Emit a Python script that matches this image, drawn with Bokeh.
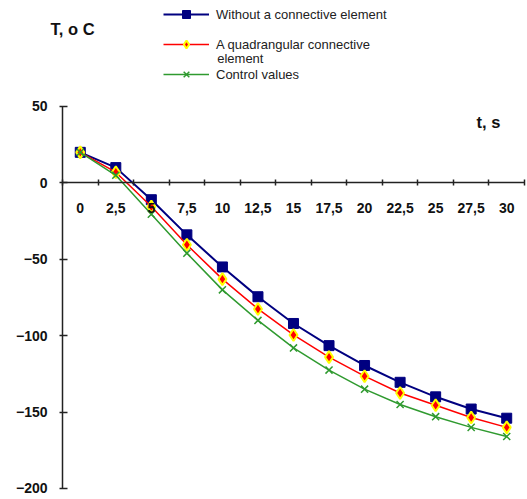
from bokeh.plotting import figure
from bokeh.models import (Range1d, FixedTicker, CustomJSTickFormatter, Label,
                          Legend, LegendItem)
from bokeh.embed import file_html
from bokeh.resources import INLINE

t = [0, 2.5, 5, 7.5, 10, 12.5, 15, 17.5, 20, 22.5, 25, 27.5, 30]
without_elem = [20, 10, -11, -34, -55, -74.5, -92, -106.5, -119.5, -130.5, -140, -148, -154]
quadrangular = [20, 7, -15.5, -40.5, -63, -82.5, -99.5, -114, -126.5, -137.5, -145.5, -153.5, -160]
control = [20, 5, -20.5, -46, -70, -90, -108, -122.5, -135, -145, -153, -160, -166]
y_ticks = [50, 0, -50, -100, -150, -200]
x_bounds = [v - 1.25 for v in t] + [t[-1] + 1.25]
series_names = ["Without a connective element", "A quadrangular connective", "element",
                "Control values"]

FONT = "Liberation Sans"
W, H = 527, 499

p = figure(width=W, height=H, output_backend="svg", toolbar_location=None,
           x_range=Range1d(-5.6115, 31.462), y_range=Range1d(-207.2, 119.37),
           min_border=0)
p.outline_line_color = None
p.grid.visible = False
p.background_fill_color = "white"

# x axis crossing at y = 0, Excel-like boundary ticks
xa = p.xaxis[0]
xa.fixed_location = 0
xa.bounds = (x_bounds[0], x_bounds[-1])
xa.ticker = FixedTicker(ticks=t, minor_ticks=x_bounds)
xa.formatter = CustomJSTickFormatter(code="return tick.toString().replace('.', ',')")
xa.major_tick_in = 0
xa.major_tick_out = 0
xa.minor_tick_in = 3
xa.minor_tick_out = 3
xa.minor_tick_line_color = "#222222"
xa.minor_tick_line_width = 1.5
xa.axis_line_color = "#222222"
xa.axis_line_width = 1.5
xa.major_label_standoff = 17
xa.major_label_text_font = FONT
xa.major_label_text_font_style = "bold"
xa.major_label_text_font_size = "14px"
xa.major_label_text_color = "#111111"

ya = p.yaxis[0]
ya.fixed_location = x_bounds[0]
ya.bounds = (-200, 50)
ya.ticker = FixedTicker(ticks=y_ticks)
ya.major_tick_in = 5
ya.major_tick_out = 3
ya.minor_tick_in = 0
ya.minor_tick_out = 0
ya.major_tick_line_color = "#222222"
ya.major_tick_line_width = 1.5
ya.axis_line_color = "#222222"
ya.axis_line_width = 1.5
ya.major_label_standoff = 12
ya.major_label_text_font = FONT
ya.major_label_text_font_style = "bold"
ya.major_label_text_font_size = "14px"
ya.major_label_text_color = "#111111"

BLUE = "#000080"
RED = "#ff0000"
GREEN = "#2f9a2f"

l1 = p.line(t, without_elem, line_color=BLUE, line_width=2)
s1 = p.scatter(t, without_elem, marker="square", size=10, fill_color=BLUE, line_color=BLUE)
l2 = p.line(t, quadrangular, line_color=RED, line_width=1.5)
s2 = p.scatter(t, quadrangular, marker="diamond", size=12, fill_color=RED,
               line_color="#ffff00", line_width=2)
l3 = p.line(t, control, line_color=GREEN, line_width=1.5)
s3 = p.scatter(t, control, marker="x", size=10, line_color=GREEN, line_width=1.5)

legend = Legend(items=[
    LegendItem(label=series_names[0], renderers=[l1, s1]),
    LegendItem(label=series_names[1], renderers=[l2, s2]),
    LegendItem(label=series_names[3], renderers=[l3, s3]),
], location=(163, 415), orientation="vertical")
legend.border_line_color = None
legend.background_fill_alpha = 0
legend.padding = 0
legend.margin = 0
legend.spacing = 10
legend.glyph_width = 46
legend.glyph_height = 20
legend.label_height = 20
legend.label_standoff = 7
legend.label_text_font = FONT
legend.label_text_font_size = "13px"
legend.label_text_color = "#222222"
p.add_layout(legend, "center")

# second line of the wrapped legend entry
p.add_layout(Label(x=9.633, y=81.2, text=series_names[2], text_font=FONT,
                   text_font_size="13px", text_baseline="middle", text_color="#222222"))

p.add_layout(Label(x=-2.09, y=101, text="T, o C", text_font=FONT, text_font_style="bold",
                   text_font_size="16.5px", text_baseline="middle", text_color="#111111"))
p.add_layout(Label(x=27.88, y=40, text="t, s", text_font=FONT, text_font_style="bold",
                   text_font_size="16.5px", text_baseline="middle", text_color="#111111"))

open("out.html", "w").write(file_html(p, INLINE))
